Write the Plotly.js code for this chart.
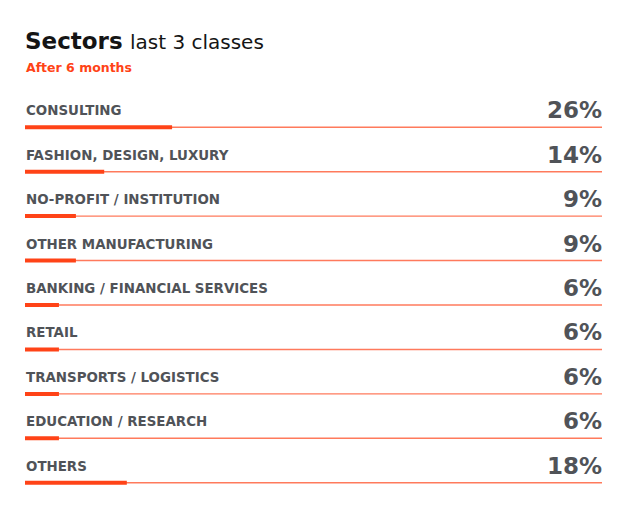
<!DOCTYPE html>
<html>
<head>
<meta charset="utf-8">
<script src="https://cdn.plot.ly/plotly-3.0.1.min.js"></script>
<style>html,body{margin:0;padding:0;background:#fff;}#chart{width:628px;height:519px;}</style>
</head>
<body>
<div id="chart"></div>
<script>
// Data
const sectors = ["CONSULTING", "FASHION, DESIGN, LUXURY", "NO-PROFIT / INSTITUTION", "OTHER MANUFACTURING",
  "BANKING / FINANCIAL SERVICES", "RETAIL", "TRANSPORTS / LOGISTICS", "EDUCATION / RESEARCH", "OTHERS"];
const shares = [26, 14, 9, 9, 6, 6, 6, 6, 18];
const valueLabels = ["26%", "14%", "9%", "9%", "6%", "6%", "6%", "6%", "18%"];
const titleMain = "Sectors";
const titleSub = "last 3 classes";
const subtitle = "After 6 months";

const axisMax = 102;
const gray = "#505358";
const font = "DejaVu Sans, Open Sans, sans-serif";

const trackTrace = {
  type: "bar", orientation: "h",
  y: sectors, x: sectors.map(() => axisMax),
  width: 0.032, marker: {color: "#FF7A5C", line: {width: 0}},
  hoverinfo: "skip", showlegend: false
};
const barTrace = {
  type: "bar", orientation: "h",
  y: sectors, x: shares,
  width: 0.09, marker: {color: "#FF4317", line: {width: 0}},
  hoverinfo: "skip", showlegend: false
};

const annotations = [];
sectors.forEach((s, i) => {
  annotations.push({
    x: 0, y: s, xref: "x", yref: "y", xanchor: "left", yanchor: "middle",
    yshift: 16.5, xshift: -1.5, showarrow: false, text: "<b>" + s + "</b>",
    font: {family: font, size: 13.4, color: gray}
  });
  annotations.push({
    x: axisMax, y: s, xref: "x", yref: "y", xanchor: "right", yanchor: "middle",
    yshift: 17, xshift: 1.5, showarrow: false, text: "<b>" + valueLabels[i] + "</b>",
    font: {family: font, size: 23, color: gray}
  });
});
annotations.push({
  x: 0, y: (505 - 26) / 400, xref: "paper", yref: "paper", xanchor: "left", yanchor: "top",
  showarrow: false, xshift: -2,
  text: "<b>" + titleMain + "</b> <span style='font-size:20px'>" + titleSub + "</span>",
  font: {family: font, size: 23, color: "#151515"}
});
annotations.push({
  x: 0, y: (505 - 58) / 400, xref: "paper", yref: "paper", xanchor: "left", yanchor: "top",
  showarrow: false, xshift: -1.5,
  text: "<b>" + subtitle + "</b>",
  font: {family: font, size: 12.5, color: "#FF4317"}
});

const layout = {
  width: 628, height: 519,
  margin: {l: 25, r: 26, t: 105, b: 14, pad: 0},
  paper_bgcolor: "#fff", plot_bgcolor: "#fff",
  barmode: "overlay",
  xaxis: {range: [0, axisMax], visible: false, fixedrange: true},
  yaxis: {type: "category", autorange: false, range: [8.5, -0.5], visible: false, fixedrange: true},
  annotations: annotations,
  showlegend: false
};

Plotly.newPlot("chart", [trackTrace, barTrace], layout, {staticPlot: true, displayModeBar: false});
</script>
</body>
</html>
